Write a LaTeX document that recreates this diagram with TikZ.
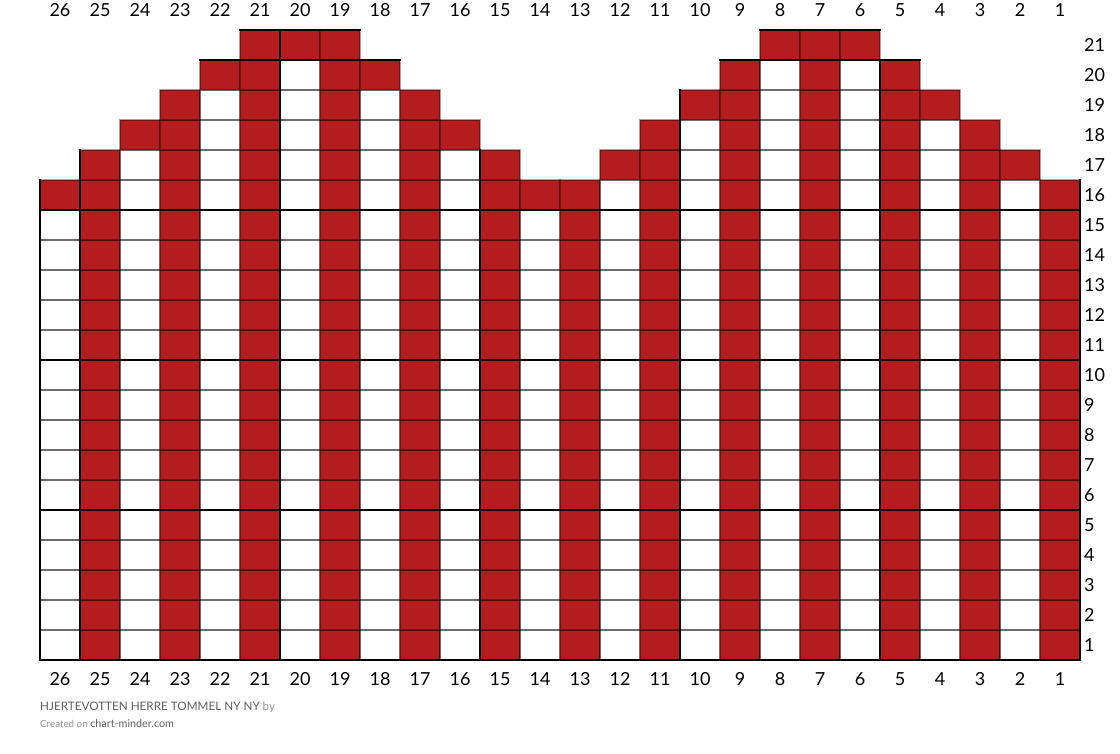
\documentclass[tikz,border=0pt]{standalone}
\usepackage{fontspec}
\setmainfont{Lato}
\definecolor{knitred}{RGB}{180,28,30}
\definecolor{txtgray}{RGB}{95,95,95}
\definecolor{ltgray}{RGB}{150,150,150}
\def\pA{1,2,1,2,1,2,1,2,1,2,1,2,1,2,1,2,1,2,1,2,1,2,1,2,1,2}
\def\pP{2,2,1,2,1,2,1,2,1,2,1,2,2,2,1,2,1,2,1,2,1,2,1,2,1,2}
\def\pQ{0,2,1,2,1,2,1,2,1,2,1,2,0,0,2,2,1,2,1,2,1,2,1,2,2,0}
\def\pR{0,0,2,2,1,2,1,2,1,2,2,0,0,0,0,2,1,2,1,2,1,2,1,2,0,0}
\def\pS{0,0,0,2,1,2,1,2,1,2,0,0,0,0,0,0,2,2,1,2,1,2,2,0,0,0}
\def\pT{0,0,0,0,2,2,1,2,2,0,0,0,0,0,0,0,0,2,1,2,1,2,0,0,0,0}
\def\pU{0,0,0,0,0,2,2,2,0,0,0,0,0,0,0,0,0,0,2,2,2,0,0,0,0,0}
\newcommand\fillrow[2]{%
  \foreach \v [count=\p] in #2 {%
    \ifnum\v>0
      \pgfmathsetmacro\xl{40+(\p-1)*40}%
      \pgfmathsetmacro\yt{660-#1*30}%
      \ifnum\v=2 \fill[knitred] (\xl,\yt) rectangle ++(40,30);\fi
      \draw[gridline] (\xl,\yt) rectangle ++(40,30);
    \fi}}
\newcommand\edgerow[2]{%
  \foreach \v [count=\p] in #2 {%
    \ifnum\v>0
      \pgfmathsetmacro\xl{40+(\p-1)*40}%
      \pgfmathsetmacro\yt{660-#1*30}%
      \pgfmathtruncatemacro\lft{(\p==1)||(mod(\p-2,5)==0)}%
      \ifnum\lft=1 \draw[boldline] (\xl,\yt) -- ++(0,30);\fi
      \ifnum\p=26 \draw[boldline] (\xl+40,\yt) -- ++(0,30);\fi
      \pgfmathtruncatemacro\tp{(mod(#1,5)==0)||(#1==21)}%
      \ifnum\tp=1 \draw[boldline] (\xl,\yt) -- ++(40,0);\fi
      \pgfmathtruncatemacro\bt{(#1==1)}%
      \ifnum\bt=1 \draw[boldline] (\xl,\yt+30) -- ++(40,0);\fi
    \fi}}
\begin{document}
\begin{tikzpicture}[x=1pt,y=-1pt,
  gridline/.style={draw=black,draw opacity=0.35,line width=1.1pt},
  boldline/.style={black,line width=2.6pt,line cap=rect},
  numlab/.style={font=\fontsize{18}{21}\selectfont,inner sep=0pt}]
\useasboundingbox (0,0) rectangle (1120,753);
\fill[white] (0,0) rectangle (1120,753);
% cells
\foreach \r in {1,...,15} {\fillrow{\r}{\pA}}
\fillrow{16}{\pP}
\fillrow{17}{\pQ}
\fillrow{18}{\pR}
\fillrow{19}{\pS}
\fillrow{20}{\pT}
\fillrow{21}{\pU}
% bold lines
\foreach \r in {1,...,15} {\edgerow{\r}{\pA}}
\edgerow{16}{\pP}
\edgerow{17}{\pQ}
\edgerow{18}{\pR}
\edgerow{19}{\pS}
\edgerow{20}{\pT}
\edgerow{21}{\pU}
% column numbers
\foreach \p in {1,...,26} {
  \pgfmathtruncatemacro\n{27-\p}
  \node[numlab] (top\n) at ({60+(\p-1)*40},10) {\n};
  \node[numlab] (bot\n) at ({60+(\p-1)*40},679) {\n};
}
% row numbers
\foreach \r in {1,...,21} {
  \node[numlab,anchor=west] (row\r) at (1084,{675-\r*30}) {\r};
}
% footer
\node[anchor=base west,inner sep=0pt,font=\fontsize{11.7}{14}\selectfont,text=txtgray] (title) at (40,710) {HJERTEVOTTEN HERRE TOMMEL NY NY \textcolor{ltgray}{by}};
\node[anchor=base west,inner sep=0pt] (credit) at (40,727) {{\fontsize{9.8}{12}\selectfont\color{ltgray}Created on} {\fontsize{10.8}{13}\selectfont\color{txtgray}chart-minder.com}};
\end{tikzpicture}
\end{document}
